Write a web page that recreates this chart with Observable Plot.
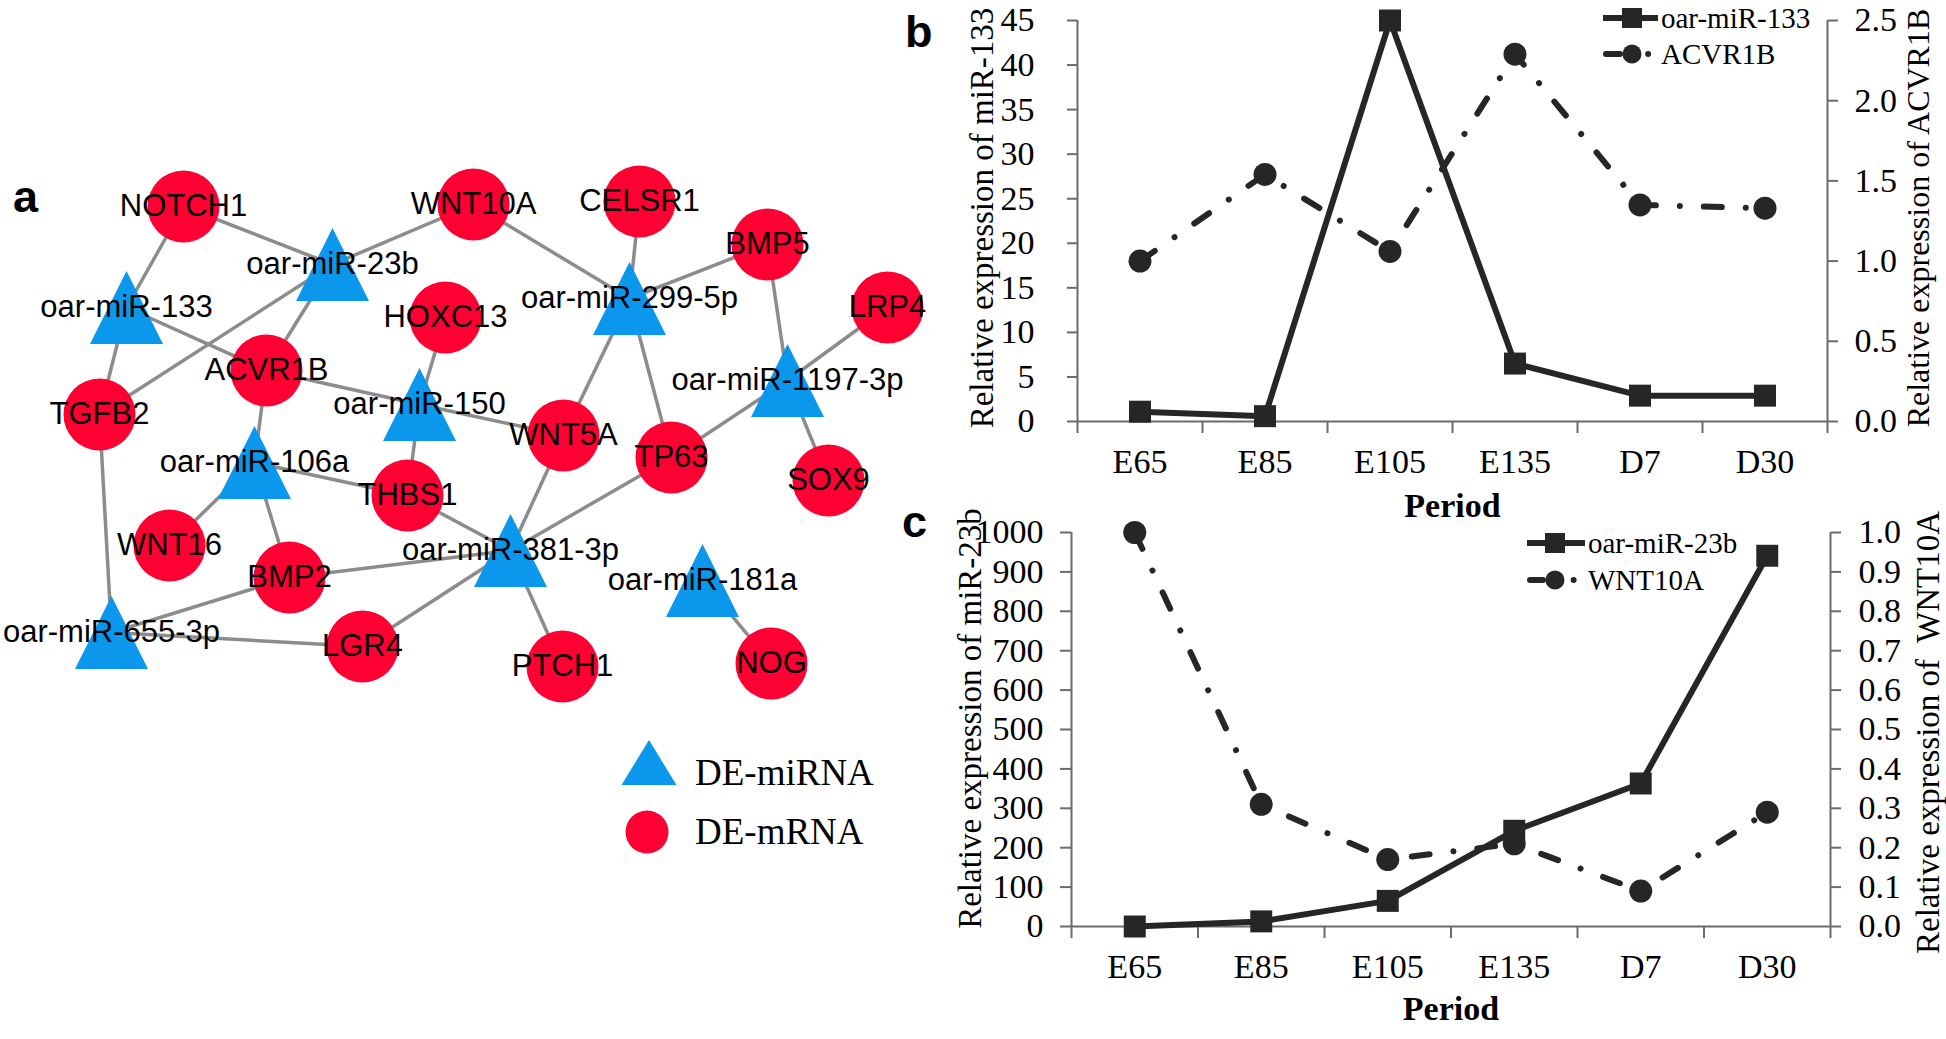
<!DOCTYPE html>
<html>
<head>
<meta charset="utf-8">
<script src="https://cdn.jsdelivr.net/npm/d3@7"></script>
<script src="https://cdn.jsdelivr.net/npm/@observablehq/plot@0.6"></script>
<style>
html, body { margin: 0; padding: 0; background: #fff; }
#root { position: relative; width: 1946px; height: 1039px; overflow: hidden; background: #fff; }
#root > svg { position: absolute; }
.letter { position: absolute; font-family: "Liberation Sans", Arial, sans-serif; font-weight: bold; font-size: 45px; line-height: 45px; color: #000; }
.leg { position: absolute; font-family: "Liberation Serif", "Times New Roman", serif; color: #000; white-space: nowrap; }
.legsvg { position: absolute; overflow: visible; }
</style>
</head>
<body>
<div id="root"></div>
<script>
// ---------------- DATA ----------------
const periods = ["E65", "E85", "E105", "E135", "D7", "D30"];
// panel b
const miR133 = [1.1, 0.6, 45, 6.5, 2.9, 2.9];
const acvr1b = [1.0, 1.54, 1.06, 2.29, 1.35, 1.33];
const ticksMiR133 = [0, 5, 10, 15, 20, 25, 30, 35, 40, 45];
const ticksACVR1B = [0, 0.5, 1.0, 1.5, 2.0, 2.5];
// panel c
const miR23b = [0, 13, 65, 243, 363, 941];
const wnt10a = [1.0, 0.31, 0.17, 0.21, 0.09, 0.29];
const ticksMiR23b = [0, 100, 200, 300, 400, 500, 600, 700, 800, 900, 1000];
const ticksWNT10A = [0, 0.1, 0.2, 0.3, 0.4, 0.5, 0.6, 0.7, 0.8, 0.9, 1.0];

// panel a: network
const miRNAs = ["oar-miR-23b", "oar-miR-133", "oar-miR-299-5p", "oar-miR-150", "oar-miR-1197-3p",
  "oar-miR-106a", "oar-miR-381-3p", "oar-miR-181a", "oar-miR-655-3p"];
const mRNAs = ["NOTCH1", "WNT10A", "CELSR1", "BMP5", "LRP4", "HOXC13", "ACVR1B", "TGFB2", "WNT5A",
  "TP63", "SOX9", "THBS1", "WNT16", "BMP2", "LGR4", "PTCH1", "NOG"];
const edges = [
  ["NOTCH1", "oar-miR-133"], ["NOTCH1", "oar-miR-23b"], ["oar-miR-23b", "WNT10A"],
  ["oar-miR-23b", "TGFB2"], ["oar-miR-23b", "ACVR1B"], ["oar-miR-133", "ACVR1B"],
  ["oar-miR-133", "TGFB2"], ["TGFB2", "oar-miR-655-3p"], ["ACVR1B", "oar-miR-106a"],
  ["ACVR1B", "oar-miR-150"], ["oar-miR-150", "WNT5A"], ["HOXC13", "oar-miR-150"],
  ["oar-miR-150", "THBS1"], ["oar-miR-106a", "THBS1"], ["oar-miR-106a", "WNT16"],
  ["oar-miR-106a", "BMP2"], ["THBS1", "oar-miR-381-3p"], ["oar-miR-381-3p", "WNT5A"],
  ["oar-miR-381-3p", "TP63"], ["oar-miR-381-3p", "BMP2"], ["oar-miR-381-3p", "LGR4"],
  ["oar-miR-381-3p", "PTCH1"], ["oar-miR-655-3p", "BMP2"], ["oar-miR-655-3p", "LGR4"],
  ["oar-miR-299-5p", "WNT10A"], ["oar-miR-299-5p", "CELSR1"], ["oar-miR-299-5p", "BMP5"],
  ["oar-miR-299-5p", "WNT5A"], ["oar-miR-299-5p", "TP63"], ["BMP5", "oar-miR-1197-3p"],
  ["LRP4", "oar-miR-1197-3p"], ["oar-miR-1197-3p", "TP63"], ["oar-miR-1197-3p", "SOX9"],
  ["oar-miR-181a", "NOG"]
];
// network layout (node positions of the drawn graph)
const layout = {
  "NOTCH1": [183, 206], "WNT10A": [473, 204], "CELSR1": [639, 201], "BMP5": [767, 244],
  "LRP4": [887, 307], "HOXC13": [445, 317], "ACVR1B": [266, 370], "TGFB2": [99, 414],
  "WNT5A": [563, 435], "TP63": [671, 457], "SOX9": [828, 480], "THBS1": [407, 495],
  "WNT16": [169, 545], "BMP2": [289, 577], "LGR4": [362, 646], "PTCH1": [562, 666],
  "NOG": [771, 663],
  "oar-miR-23b": [332, 264], "oar-miR-133": [126, 307], "oar-miR-299-5p": [629, 298],
  "oar-miR-150": [419, 404], "oar-miR-1197-3p": [787, 380], "oar-miR-106a": [254, 462],
  "oar-miR-381-3p": [510, 550], "oar-miR-181a": [702, 580], "oar-miR-655-3p": [111, 632]
};

// ---------------- DRAW ----------------
const root = document.getElementById("root");
const RED = "#ff0033", BLUE = "#0a97ec", EDGE = "#8c8c8c";
const INK = "#262626", AXIS = "#6b6b6b";
const SERIF = '"Liberation Serif", "Times New Roman", serif';

function place(svg, left, top) {
  svg.style.left = left + "px";
  svg.style.top = top + "px";
  root.appendChild(svg);
}

// isosceles triangle symbol, centred on its bounding box
const tri = {
  draw(ctx, size) {
    const r = Math.sqrt(size / Math.PI);
    ctx.moveTo(0, -r); ctx.lineTo(r, r); ctx.lineTo(-r, r); ctx.closePath();
  }
};

const px = (n) => layout[n][0], py = (n) => layout[n][1];
const net = Plot.plot({
  width: 900, height: 1039, margin: 0,
  x: {domain: [0, 900], range: [0, 900], axis: null},
  y: {domain: [0, 1039], range: [0, 1039], axis: null},
  style: {background: "transparent", overflow: "visible", maxWidth: "none", fontFamily: '"Liberation Sans", Arial, sans-serif'},
  marks: [
    Plot.link(edges, {x1: d => px(d[0]), y1: d => py(d[0]), x2: d => px(d[1]), y2: d => py(d[1]), stroke: EDGE, strokeWidth: 3.5}),
    Plot.dot(mRNAs, {x: px, y: py, r: 36, fill: RED}),
    Plot.dot(miRNAs, {x: px, y: py, r: 36.5, symbol: tri, fill: BLUE}),
    Plot.text([...mRNAs, ...miRNAs], {x: px, y: py, text: d => d, fontSize: 31, fill: "#000"})
  ]
});
place(net, 0, 0);

function dualChart(o) {
  const rows = periods.map((p, i) => ({p, x: i + 0.5, a: o.sA[i], b: o.sB[i]}));
  const common = {
    width: o.width, height: o.height,
    marginLeft: o.mL, marginRight: o.mR, marginTop: o.mT, marginBottom: o.mB,
    x: {domain: [0, periods.length], axis: null},
    style: {background: "transparent", overflow: "visible", maxWidth: "none", fontFamily: SERIF, color: "#000"}
  };
  const left = Plot.plot({
    ...common,
    y: {domain: o.domA, axis: null},
    marks: [
      Plot.ruleX([0], {stroke: AXIS, strokeWidth: 2}),
      Plot.ruleY([0], {stroke: AXIS, strokeWidth: 2}),
      Plot.axisY(o.ticksA, {anchor: "left", tickSize: o.tsA, tickPadding: o.tpA, stroke: AXIS, strokeWidth: 2, fontSize: 34, label: null, tickFormat: d => String(d)}),
      Plot.axisX(d3.range(periods.length + 1), {anchor: "bottom", tickSize: 12, stroke: AXIS, strokeWidth: 2, tickFormat: () => "", label: null}),
      Plot.axisX(periods.map((p, i) => i + 0.5), {anchor: "bottom", tickSize: 0, tickPadding: 27, fontSize: 34, label: null, tickFormat: v => periods[Math.floor(v)]}),
      Plot.line(rows, {x: "x", y: "a", stroke: INK, strokeWidth: 6}),
      Plot.dot(rows, {x: "x", y: "a", symbol: "square", r: 12.4, fill: INK}),
      Plot.text([o.titleA], {text: d => d, frameAnchor: "left", textAnchor: "middle", lineAnchor: "middle", rotate: -90, dx: o.tdxA, dy: o.tdyA, fontSize: 33}),
      Plot.text(["Period"], {text: d => d, frameAnchor: "bottom", textAnchor: "middle", lineAnchor: "middle", dy: o.pdy, fontSize: 34, fontWeight: "bold"})
    ]
  });
  const right = Plot.plot({
    ...common,
    y: {domain: o.domB, axis: null},
    marks: [
      Plot.ruleX([periods.length], {stroke: AXIS, strokeWidth: 2}),
      Plot.axisY(o.ticksB, {anchor: "right", tickSize: 10, tickPadding: o.tpB, stroke: AXIS, strokeWidth: 2, fontSize: 34, label: null, tickFormat: d => d.toFixed(1)}),
      Plot.line(rows, {x: "x", y: "b", stroke: INK, strokeWidth: 6, strokeDasharray: "18,24,0.01,24", strokeLinecap: "round"}),
      Plot.dot(rows, {x: "x", y: "b", r: 11.5, fill: INK}),
      Plot.text([o.titleB], {text: d => d, frameAnchor: "right", textAnchor: "middle", lineAnchor: "middle", rotate: -90, dx: o.tdxB, dy: o.tdyB, fontSize: o.tfsB})
    ]
  });
  place(left, o.left, o.top);
  place(right, o.left, o.top);
}

// panel b
dualChart({
  left: 890, top: 0, width: 1056, height: 520, mL: 187, mR: 119, mT: 20, mB: 99,
  sA: miR133, sB: acvr1b, domA: [0, 45], domB: [0, 2.5], ticksA: ticksMiR133, ticksB: ticksACVR1B,
  tsA: 10, tpA: 33, tpB: 17,
  titleA: "Relative expression of miR-133", titleB: "Relative expression of ACVR1B",
  tdxA: -95, tdyA: -3, tdxB: 91, tdyB: -3, tfsB: 32, pdy: 85
});
// panel c
dualChart({
  left: 890, top: 500, width: 1056, height: 539, mL: 181, mR: 116, mT: 32, mB: 113,
  sA: miR23b, sB: wnt10a, domA: [0, 1000], domB: [0, 1], ticksA: ticksMiR23b, ticksB: ticksWNT10A,
  tsA: 11, tpA: 17, tpB: 18,
  titleA: "Relative expression of miR-23b", titleB: "Relative expression of\u00a0 WNT10A",
  tdxA: -101, tdyA: -11, tdxB: 98, tdyB: 3, tfsB: 33, pdy: 83
});

// panel letters
[["a", 13, 174], ["b", 905, 9], ["c", 902, 499]].forEach(([t, x, y]) => {
  const d = document.createElement("div");
  d.className = "letter"; d.textContent = t;
  d.style.left = x + "px"; d.style.top = y + "px";
  root.appendChild(d);
});

// legends
function legText(text, x, cy, size) {
  const d = document.createElement("div");
  d.className = "leg"; d.textContent = text;
  const lh = Math.round(size * 1.17);
  d.style.fontSize = size + "px"; d.style.lineHeight = lh + "px";
  d.style.left = x + "px"; d.style.top = (cy - lh / 2) + "px";
  root.appendChild(d);
}
function legSvg(html) {
  const ns = "http://www.w3.org/2000/svg";
  const s = document.createElementNS(ns, "svg");
  s.setAttribute("width", 1946); s.setAttribute("height", 1039);
  s.setAttribute("class", "legsvg");
  s.style.left = "0px"; s.style.top = "0px";
  s.innerHTML = html;
  root.appendChild(s);
}
function chartLegend(x0, x1, xm, y1, y2, labels) {
  legSvg(
    `<line x1="${x0}" x2="${x1}" y1="${y1}" y2="${y1}" stroke="${INK}" stroke-width="6"/>` +
    `<rect x="${xm - 10}" y="${y1 - 10}" width="20" height="20" fill="${INK}"/>` +
    `<line x1="${x0 + 3}" x2="${xm - 12}" y1="${y2}" y2="${y2}" stroke="${INK}" stroke-width="6" stroke-linecap="round"/>` +
    `<circle cx="${xm}" cy="${y2}" r="9.5" fill="${INK}"/>` +
    `<circle cx="${xm + (x1 - xm) * 0.62}" cy="${y2}" r="3" fill="${INK}"/>`
  );
  legText(labels[0], x1 + 3, y1, 29);
  legText(labels[1], x1 + 3, y2, 29);
}
chartLegend(1603, 1658, 1632, 18, 54, ["oar-miR-133", "ACVR1B"]);
chartLegend(1527, 1585, 1555, 543, 580, ["oar-miR-23b", "WNT10A"]);

// network legend
legSvg(
  `<path d="M649,740 L676.5,785 L621.5,785 Z" fill="${BLUE}"/>` +
  `<circle cx="647" cy="832" r="21.5" fill="${RED}"/>`
);
legText("DE-miRNA", 695, 772, 37);
legText("DE-mRNA", 695, 831, 37);
</script>
</body>
</html>
